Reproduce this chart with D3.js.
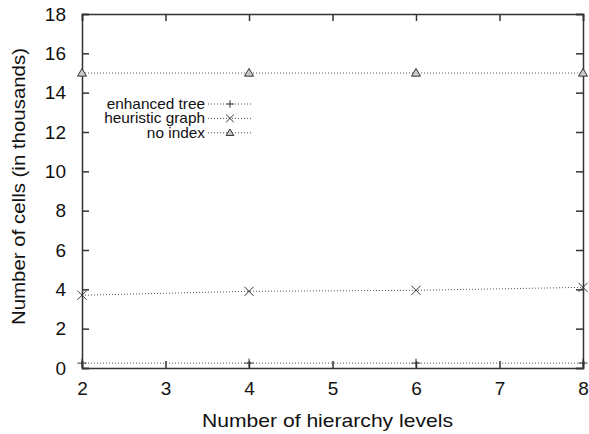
<!DOCTYPE html>
<html>
<head>
<meta charset="utf-8">
<script src="https://cdn.jsdelivr.net/npm/d3@7"></script>
<style>
  body { margin: 0; background: #fff; }
  text { font-family: "Liberation Sans", Arial, sans-serif; fill: #111; }
</style>
</head>
<body>
<svg id="chart" width="589" height="434"></svg>
<script>
// data
const levels = [2, 4, 6, 8]
const enhancedTree = [0.25, 0.25, 0.25, 0.25]
const heuristicGraph = [3.7, 3.9, 3.95, 4.1]
const noIndex = [15, 15, 15, 15]
const seriesNames = ["enhanced tree", "heuristic graph", "no index"]
const xTicks = [2, 3, 4, 5, 6, 7, 8]
const yTicks = [0, 2, 4, 6, 8, 10, 12, 14, 16, 18]

const margin = {top: 14, right: 6, bottom: 66, left: 82}
const width = 589, height = 434
const svg = d3.select("#chart")

const x = d3.scaleLinear().domain([2, 8]).range([margin.left, width - margin.right])
const y = d3.scaleLinear().domain([0, 18]).range([height - margin.bottom, margin.top])

const axisColor = "#333"
const tickLen = 7

// axes with inward ticks on all four sides
const axes = [
  {axis: d3.axisBottom(x).tickValues(xTicks).tickFormat(d3.format("d")).tickSize(-tickLen).tickPadding(14), t: `translate(0,${y(0)})`, labels: true},
  {axis: d3.axisTop(x).tickValues(xTicks).tickSize(-tickLen), t: `translate(0,${y(18)})`, labels: false},
  {axis: d3.axisLeft(y).tickValues(yTicks).tickFormat(d3.format("d")).tickSize(-tickLen).tickPadding(16), t: `translate(${x(2)},0)`, labels: true},
  {axis: d3.axisRight(y).tickValues(yTicks).tickSize(-tickLen), t: `translate(${x(8)},0)`, labels: false},
]
axes.forEach((a) => {
  const g = svg.append("g").attr("transform", a.t).call(a.axis)
  g.select(".domain").attr("stroke", axisColor).attr("stroke-width", 1.5)
  g.selectAll(".tick line").attr("stroke", axisColor).attr("stroke-width", 1.5)
  g.selectAll(".tick text")
    .style("font-size", "19px")
    .style("font-family", "Liberation Sans, Arial, sans-serif")
    .attr("fill", "#111")
  if(!a.labels){
    g.selectAll(".tick text").remove()
  }
})

// axis titles
svg.append("text")
  .attr("x", (x(2) + x(8)) / 2 - 5)
  .attr("y", 427)
  .attr("text-anchor", "middle")
  .attr("textLength", 251)
  .attr("lengthAdjust", "spacingAndGlyphs")
  .style("font-size", "19px")
  .text("Number of hierarchy levels")

svg.append("text")
  .attr("transform", `translate(25,${(48 + 325) / 2}) rotate(-90)`)
  .attr("text-anchor", "middle")
  .attr("textLength", 277)
  .attr("lengthAdjust", "spacingAndGlyphs")
  .style("font-size", "19px")
  .text("Number of cells (in thousands)")

// symbols
const symPlus = (r) => (g, cx, cy) => {
  g.append("path").attr("d", `M${cx - r},${cy}H${cx + r}M${cx},${cy - r}V${cy + r}`)
    .attr("stroke", "#333").attr("stroke-width", 1).attr("fill", "none")
}
const symCross = (r) => (g, cx, cy) => {
  g.append("path").attr("d", `M${cx - r},${cy - r}L${cx + r},${cy + r}M${cx - r},${cy + r}L${cx + r},${cy - r}`)
    .attr("stroke", "#333").attr("stroke-width", 1).attr("fill", "none")
}
const symTri = (r) => (g, cx, cy) => {
  g.append("path").attr("d", `M${cx},${cy - r}L${cx + r},${cy + r * 0.7}L${cx - r},${cy + r * 0.7}Z`)
    .attr("stroke", "#333").attr("stroke-width", 1).attr("fill", "#ccc")
}

const series = [
  {name: seriesNames[0], values: enhancedTree, sym: symPlus},
  {name: seriesNames[1], values: heuristicGraph, sym: symCross},
  {name: seriesNames[2], values: noIndex, sym: symTri},
]

const line = d3.line().x((d) => x(d[0])).y((d) => y(d[1]))

series.forEach((s) => {
  const pts = levels.map((l, i) => [l, s.values[i]])
  svg.append("path")
    .attr("d", line(pts))
    .attr("stroke", "#555")
    .attr("stroke-width", 1)
    .attr("stroke-dasharray", "1,2")
    .attr("fill", "none")
  const g = svg.append("g")
  const draw = s.sym(4.5)
  pts.forEach((p) => draw(g, x(p[0]), y(p[1])))
})

// legend (text a bit wider than the font, as in the figure)
const legend = svg.append("g")
series.forEach((s, i) => {
  const ly = 104 + i * 14.4
  const t = legend.append("text")
    .attr("x", 205)
    .attr("y", ly)
    .attr("dy", "0.35em")
    .attr("text-anchor", "end")
    .style("font-size", "14.5px")
    .text(s.name)
  t.attr("textLength", t.node().getComputedTextLength() * 1.06)
    .attr("lengthAdjust", "spacingAndGlyphs")
  legend.append("line")
    .attr("x1", 208).attr("x2", 252)
    .attr("y1", ly).attr("y2", ly)
    .attr("stroke", "#555")
    .attr("stroke-width", 1)
    .attr("stroke-dasharray", "1,2")
  s.sym(3.8)(legend, 230, ly)
})
</script>
</body>
</html>
